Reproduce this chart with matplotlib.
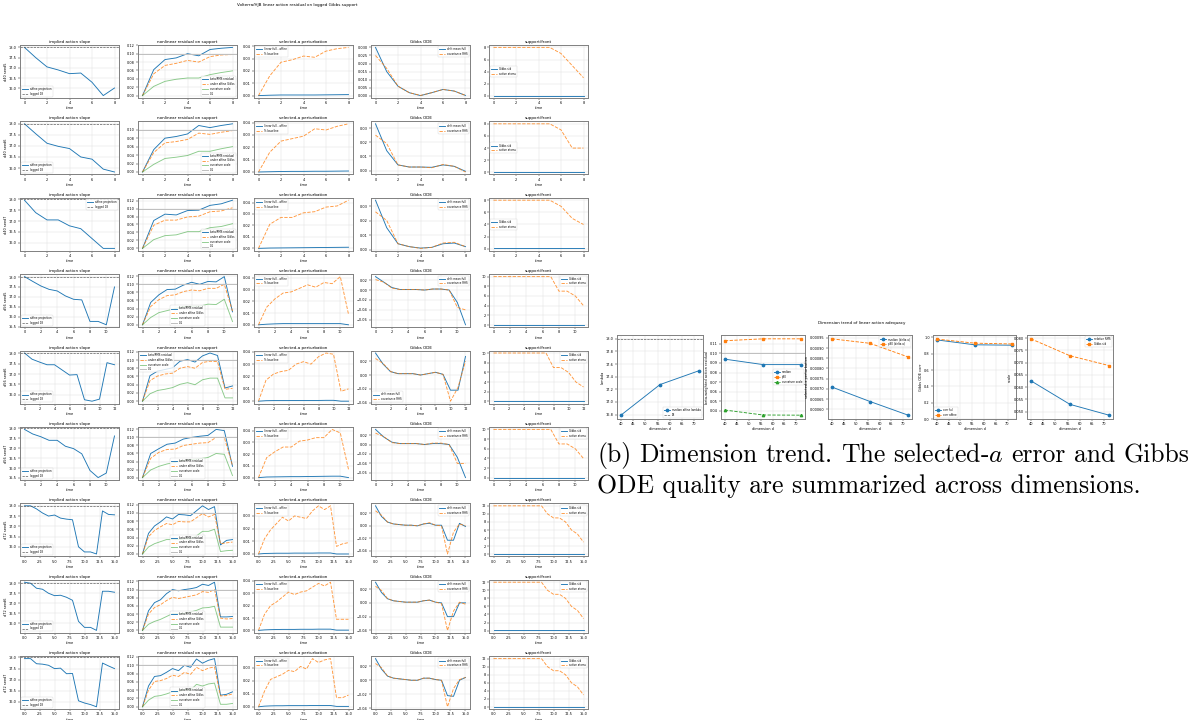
import matplotlib.pyplot as plt
from matplotlib.ticker import MaxNLocator

plt.rcParams["mathtext.fontset"] = "cm"

# ---- per-run data (left grid) ----
row_names = ["d40 seed5", "d40 seed6", "d40 seed7",
             "d56 seed5", "d56 seed6", "d56 seed7",
             "d72 seed5", "d72 seed6", "d72 seed7"]

times = [
    [0, 1, 2, 3, 4, 5, 6, 7, 8],
    [0, 1, 2, 3, 4, 5, 6, 7, 8],
    [0, 1, 2, 3, 4, 5, 6, 7, 8],
    [0, 1, 2, 3, 4, 5, 6, 7, 8, 9, 10, 11],
    [0, 1, 2, 3, 4, 5, 6, 7, 8, 9, 10, 11, 12],
    [0, 1, 2, 3, 4, 5, 6, 7, 8, 9, 10, 11],
    [0, 1, 2, 3, 4, 5, 6, 7, 8, 9, 10, 11, 12, 13, 14, 15],
    [0, 1, 2, 3, 4, 5, 6, 7, 8, 9, 10, 11, 12, 13, 14, 15],
    [0, 1, 2, 3, 4, 5, 6, 7, 8, 9, 10, 11, 12, 13, 14, 15],
]

affine_slope = [
    [18.0, 17.5, 17.05, 16.9, 16.72, 16.75, 16.3, 15.65, 16.02],
    [18.0, 17.55, 17.12, 16.98, 16.88, 16.5, 16.4, 15.95, 15.82],
    [17.95, 17.38, 17.05, 17.05, 16.78, 16.65, 16.2, 15.75, 15.75],
    [18.02, 17.78, 17.55, 17.38, 17.3, 17.05, 16.88, 16.85, 15.77, 15.77, 15.6, 17.5],
    [18.02, 17.72, 17.58, 17.45, 17.45, 17.2, 16.95, 16.97, 15.75, 15.68, 15.78, 17.55, 17.45],
    [17.95, 17.72, 17.58, 17.4, 17.4, 17.1, 16.98, 16.72, 15.88, 15.52, 15.75, 17.62],
    [18.0, 18.0, 17.85, 17.65, 17.5, 17.55, 17.4, 17.35, 17.32, 16.0, 15.75, 15.75, 15.65, 17.75, 17.58, 17.56],
    [18.05, 18.0, 17.75, 17.7, 17.5, 17.38, 17.4, 17.3, 17.15, 16.1, 15.8, 15.8, 15.65, 17.6, 17.6, 17.55],
    [17.95, 17.95, 17.72, 17.7, 17.65, 17.5, 17.52, 17.27, 17.28, 16.05, 15.95, 15.88, 15.78, 17.75, 17.62, 17.5],
]

beta_rms = [
    [0, 0.062, 0.086, 0.09, 0.1, 0.095, 0.11, 0.113, 0.115],
    [0, 0.053, 0.08, 0.084, 0.09, 0.11, 0.105, 0.11, 0.114],
    [0, 0.07, 0.086, 0.084, 0.095, 0.096, 0.108, 0.112, 0.121],
    [0, 0.055, 0.074, 0.087, 0.088, 0.098, 0.105, 0.1, 0.107, 0.106, 0.119, 0.032],
    [0, 0.062, 0.073, 0.077, 0.081, 0.097, 0.101, 0.095, 0.11, 0.117, 0.111, 0.032, 0.037],
    [0, 0.06, 0.072, 0.083, 0.086, 0.096, 0.1, 0.103, 0.105, 0.12, 0.117, 0.028],
    [0, 0.05, 0.068, 0.078, 0.09, 0.085, 0.096, 0.095, 0.093, 0.105, 0.117, 0.108, 0.115, 0.022, 0.033, 0.035],
    [0, 0.048, 0.068, 0.075, 0.09, 0.1, 0.097, 0.1, 0.102, 0.105, 0.113, 0.11, 0.118, 0.033, 0.033, 0.034],
    [0, 0.05, 0.073, 0.075, 0.083, 0.092, 0.087, 0.1, 0.095, 0.115, 0.105, 0.112, 0.116, 0.028, 0.03, 0.036],
]

under_affine = [
    [0, 0.052, 0.072, 0.077, 0.084, 0.08, 0.093, 0.097, 0.098],
    [0, 0.046, 0.069, 0.072, 0.077, 0.092, 0.089, 0.094, 0.098],
    [0, 0.058, 0.071, 0.071, 0.079, 0.081, 0.092, 0.094, 0.102],
    [0, 0.045, 0.062, 0.072, 0.074, 0.082, 0.086, 0.084, 0.09, 0.09, 0.1, 0.034],
    [0, 0.05, 0.061, 0.066, 0.068, 0.08, 0.084, 0.08, 0.094, 0.097, 0.096, 0.029, 0.031],
    [0, 0.048, 0.063, 0.07, 0.071, 0.08, 0.083, 0.086, 0.087, 0.1, 0.1, 0.03],
    [0, 0.042, 0.057, 0.066, 0.074, 0.071, 0.079, 0.078, 0.078, 0.088, 0.098, 0.09, 0.096, 0.025, 0.027, 0.029],
    [0, 0.04, 0.056, 0.063, 0.073, 0.081, 0.078, 0.081, 0.084, 0.087, 0.095, 0.093, 0.1, 0.03, 0.028, 0.029],
    [0, 0.04, 0.061, 0.063, 0.068, 0.076, 0.073, 0.083, 0.078, 0.095, 0.087, 0.093, 0.096, 0.026, 0.027, 0.031],
]

curvature = [
    [0, 0.022, 0.034, 0.039, 0.042, 0.042, 0.05, 0.055, 0.059],
    [0, 0.018, 0.032, 0.035, 0.039, 0.049, 0.049, 0.055, 0.06],
    [0, 0.022, 0.032, 0.034, 0.042, 0.042, 0.052, 0.055, 0.062],
    [0, 0.018, 0.03, 0.035, 0.04, 0.045, 0.046, 0.046, 0.051, 0.05, 0.063, 0.008],
    [0, 0.018, 0.026, 0.029, 0.033, 0.041, 0.045, 0.04, 0.052, 0.056, 0.056, 0.008, 0.008],
    [0, 0.019, 0.028, 0.034, 0.038, 0.043, 0.045, 0.047, 0.05, 0.06, 0.058, 0.005],
    [0, 0.017, 0.025, 0.03, 0.035, 0.035, 0.035, 0.037, 0.037, 0.044, 0.055, 0.055, 0.06, 0.006, 0.008, 0.009],
    [0, 0.015, 0.022, 0.027, 0.034, 0.041, 0.041, 0.042, 0.045, 0.049, 0.055, 0.056, 0.059, 0.008, 0.008, 0.008],
    [0, 0.016, 0.025, 0.027, 0.031, 0.036, 0.036, 0.042, 0.04, 0.054, 0.05, 0.055, 0.057, 0.006, 0.006, 0.008],
]

sel_full = [
    [0, 0.0003, 0.0005, 0.0005, 0.0005, 0.0005, 0.0006, 0.0007, 0.0008],
    [0, 0.0002, 0.0004, 0.0005, 0.0005, 0.0006, 0.0006, 0.0007, 0.0008],
    [0, 0.0003, 0.0004, 0.0005, 0.0006, 0.0007, 0.0008, 0.0009, 0.001],
    [0, 0.0005, 0.0008, 0.001, 0.001, 0.001, 0.001, 0.001, 0.001, 0.001, 0.001, 0.0],
    [0, 0.0004, 0.0005, 0.0005, 0.0005, 0.0006, 0.0006, 0.0006, 0.0006, 0.0007, 0.0007, 0.0, 0.0],
    [0, 0.0005, 0.0006, 0.0007, 0.0008, 0.0008, 0.0009, 0.001, 0.0011, 0.0012, 0.0012, 0.0],
    [0, 0.0004, 0.0005, 0.0006, 0.0006, 0.0006, 0.0007, 0.0007, 0.0007, 0.0007, 0.0008, 0.0008, 0.0008, 0.0, 0.0, 0.0],
    [0, 0.0004, 0.0006, 0.0007, 0.0008, 0.0008, 0.0008, 0.0009, 0.0009, 0.0009, 0.001, 0.001, 0.001, 0.0002, 0.0002, 0.0002],
    [0, 0.0005, 0.0007, 0.0008, 0.0008, 0.0009, 0.0009, 0.0009, 0.0009, 0.001, 0.001, 0.001, 0.001, 0.0003, 0.0003, 0.0003],
]

sel_base = [
    [0, 0.016, 0.027, 0.029, 0.032, 0.031, 0.036, 0.038, 0.039],
    [0, 0.016, 0.025, 0.027, 0.029, 0.035, 0.034, 0.037, 0.039],
    [0, 0.021, 0.027, 0.027, 0.031, 0.032, 0.036, 0.037, 0.042],
    [0, 0.015, 0.022, 0.027, 0.028, 0.031, 0.034, 0.032, 0.036, 0.035, 0.041, 0.009],
    [0, 0.017, 0.022, 0.024, 0.025, 0.03, 0.032, 0.03, 0.036, 0.039, 0.038, 0.008, 0.01],
    [0, 0.017, 0.022, 0.026, 0.026, 0.031, 0.032, 0.034, 0.034, 0.041, 0.038, 0.007],
    [0, 0.012, 0.019, 0.024, 0.029, 0.026, 0.03, 0.029, 0.028, 0.034, 0.038, 0.035, 0.038, 0.006, 0.008, 0.009],
    [0, 0.013, 0.02, 0.023, 0.027, 0.031, 0.029, 0.031, 0.032, 0.035, 0.038, 0.036, 0.039, 0.009, 0.009, 0.009],
    [0, 0.012, 0.021, 0.023, 0.025, 0.028, 0.027, 0.031, 0.029, 0.037, 0.034, 0.036, 0.037, 0.007, 0.007, 0.009],
]

ode_drift = [
    [0.030, 0.015, 0.006, 0.002, 0.0002, 0.002, 0.004, 0.003, 0.0003],
    [0.033, 0.014, 0.004, 0.0025, 0.0025, 0.0023, 0.004, 0.003, -0.0005],
    [0.034, 0.015, 0.004, 0.002, 0.001, 0.0015, 0.004, 0.0045, 0.002],
    [0.027, 0.016, 0.005, 0.001, 0.001, 0.001, 0.0, 0.002, 0.002, 0.0, -0.025, -0.07],
    [0.032, 0.016, 0.005, 0.002, 0.002, 0.002, 0.0, 0.002, 0.004, 0.001, -0.022, -0.022, 0.027],
    [0.032, 0.016, 0.005, 0.002, 0.002, 0.002, 0.0, 0.002, 0.002, 0.0, -0.027, -0.07],
    [0.032, 0.015, 0.006, 0.003, 0.002, 0.001, 0.001, 0.0, 0.003, 0.004, 0.001, 0.001, -0.023, -0.023, 0.004, -0.001],
    [0.030, 0.015, 0.006, 0.003, 0.002, 0.001, 0.001, 0.001, 0.003, 0.004, 0.001, 0.0, -0.02, -0.02, 0.0, 0.0],
    [0.031, 0.016, 0.006, 0.003, 0.002, 0.001, 0.0, 0.0, 0.003, 0.003, 0.001, 0.0, -0.022, -0.023, 0.0, 0.004],
]

ode_cov = [
    [0.025, 0.017, 0.006, 0.002, 0.0003, 0.002, 0.004, 0.003, 0.0003],
    [0.025, 0.019, 0.004, 0.0025, 0.0025, 0.002, 0.0043, 0.003, -0.001],
    [0.026, 0.02, 0.004, 0.002, 0.0008, 0.0015, 0.0045, 0.005, 0.002],
    [0.021, 0.016, 0.004, 0.001, 0.001, 0.001, 0.0, 0.002, 0.002, 0.0, -0.035, -0.04],
    [0.024, 0.017, 0.005, 0.002, 0.002, 0.002, 0.0, 0.002, 0.004, 0.001, -0.038, -0.018, 0.02],
    [0.024, 0.017, 0.004, 0.002, 0.002, 0.002, 0.0, 0.003, 0.003, 0.0, -0.04, -0.04],
    [0.024, 0.017, 0.006, 0.003, 0.002, 0.001, 0.001, 0.0, 0.003, 0.005, 0.001, 0.0, -0.045, -0.01, 0.003, 0.0],
    [0.024, 0.018, 0.006, 0.003, 0.002, 0.001, 0.001, 0.001, 0.003, 0.004, 0.001, -0.001, -0.04, -0.012, 0.001, -0.002],
    [0.024, 0.018, 0.006, 0.003, 0.002, 0.001, 0.0, 0.0, 0.003, 0.003, 0.001, 0.0, -0.038, -0.012, 0.001, 0.004],
]

active_atoms = [
    [8, 8, 8, 8, 8, 8, 7, 5, 3],
    [8, 8, 8, 8, 8, 8, 7, 4, 4],
    [8, 8, 8, 8, 8, 8, 7, 5, 4],
    [10, 10, 10, 10, 10, 10, 10, 10, 7, 7, 6, 4],
    [10, 10, 10, 10, 10, 10, 10, 10, 7, 7, 6, 4, 3],
    [10, 10, 10, 10, 10, 10, 10, 10, 7, 7, 6, 4],
    [12, 12, 12, 12, 12, 12, 12, 12, 12, 10, 9, 9, 8, 6, 5, 3],
    [12, 12, 12, 12, 12, 12, 12, 12, 12, 10, 9, 9, 8, 6, 5, 3],
    [12, 12, 12, 12, 12, 12, 12, 12, 12, 10, 9, 9, 8, 6, 5, 3],
]

gibbs_std = [
    [0.06, 0.06, 0.06, 0.06, 0.06, 0.06, 0.06, 0.06, 0.06],
    [0.06, 0.06, 0.06, 0.06, 0.06, 0.06, 0.06, 0.06, 0.06],
    [0.06, 0.06, 0.06, 0.06, 0.06, 0.06, 0.06, 0.06, 0.06],
    [0.06, 0.06, 0.06, 0.06, 0.06, 0.06, 0.06, 0.06, 0.06, 0.06, 0.06, 0.06],
    [0.06, 0.06, 0.06, 0.06, 0.06, 0.06, 0.06, 0.06, 0.06, 0.06, 0.06, 0.06, 0.06],
    [0.06, 0.06, 0.06, 0.06, 0.06, 0.06, 0.06, 0.06, 0.06, 0.06, 0.06, 0.06],
    [0.06, 0.06, 0.06, 0.06, 0.06, 0.06, 0.06, 0.06, 0.06, 0.06, 0.06, 0.06, 0.06, 0.06, 0.06, 0.06],
    [0.06, 0.06, 0.06, 0.06, 0.06, 0.06, 0.06, 0.06, 0.06, 0.06, 0.06, 0.06, 0.06, 0.06, 0.06, 0.06],
    [0.06, 0.06, 0.06, 0.06, 0.06, 0.06, 0.06, 0.06, 0.06, 0.06, 0.06, 0.06, 0.06, 0.06, 0.06, 0.06],
]

# ---- dimension trend data (right) ----
dims = [40, 56, 72]
med_lambda = [16.79, 17.275, 17.495]
res_median = [0.094, 0.0883, 0.0883]
res_p90 = [0.1133, 0.1153, 0.1153]
res_curv = [0.0407, 0.0355, 0.0353]
da_median = [0.000709, 0.000638, 0.000571]
da_p90 = [0.000945, 0.000923, 0.000856]
corr_full = [0.97, 0.91, 0.905]
corr_affine = [0.98, 0.93, 0.92]
rel_rms = [0.0626, 0.053, 0.0486]
gibbs_std_dim = [0.0797, 0.0728, 0.0688]

caption_line1 = ["(b)", "Dimension", "trend.", "The", "selected-$a$", "error", "and", "Gibbs"]
caption_line2 = "ODE quality are summarized across dimensions."

# legend spots per column, per row
leg_slope = ["lower left"] * 9
leg_slope[2] = "upper right"
leg_res = ["lower right"] * 3 + ["lower center", "upper left", "lower center"] + ["lower center"] * 3
leg_ode = ["upper right"] * 9
leg_ode[4] = "lower left"
leg_front = ["center left"] * 3 + ["upper right"] * 6

W, H = 1192, 720
fig = plt.figure(figsize=(W / 100, H / 100), dpi=100)

FS_T = 3.0
FS_TK = 2.5
FS_L = 1.9
LW = 0.65


def px_axes(x, y, w, h):
    return fig.add_axes([x / W, 1 - (y + h) / H, w / W, h / H])


def style(ax, nb):
    ax.tick_params(labelsize=FS_TK, length=1.3, width=0.3, pad=1)
    ax.xaxis.set_major_locator(MaxNLocator(nb, steps=[1, 2, 2.5, 5, 10]))
    ax.yaxis.set_major_locator(MaxNLocator(nb, steps=[1, 2, 2.5, 5, 10]))
    ax.grid(True, color="0.86", lw=0.3)
    for s in ax.spines.values():
        s.set_linewidth(0.7)
        s.set_edgecolor("0.5")


def leg(ax, loc):
    ax.legend(loc=loc, fontsize=FS_L, handlelength=2.2, borderpad=0.4,
              labelspacing=0.3, framealpha=0.8, edgecolor="0.8").get_frame().set_linewidth(0.3)


col_x = [20, 138, 254, 371, 489]
for r in range(9):
    top = 45 + 76.4 * r
    t = times[r]
    axs = [px_axes(x, top, 99, 53) for x in col_x]

    ax = axs[0]
    ax.plot(t, affine_slope[r], color="C0", lw=LW, label="affine projection")
    ax.axhline(18.0, color="0.3", ls="--", lw=0.45, label="logged 18")
    ax.set_title("implied action slope", fontsize=FS_T, pad=1.5)
    ax.set_ylabel(row_names[r], fontsize=FS_TK, labelpad=1)
    leg(ax, leg_slope[r])

    ax = axs[1]
    ax.plot(t, beta_rms[r], color="C0", lw=LW, label="beta/RMS residual")
    ax.plot(t, under_affine[r], color="C1", ls="--", lw=LW, alpha=0.8, label="under affine Gibbs")
    ax.plot(t, curvature[r], color="C2", lw=LW, alpha=0.55, label="curvature scale")
    ax.axhline(0.1, color="0.75", lw=0.7, label="0.1")
    ax.set_title("nonlinear residual on support", fontsize=FS_T, pad=1.5)
    leg(ax, leg_res[r])

    ax = axs[2]
    ax.plot(t, sel_full[r], color="C0", lw=LW, label="linear full - affine")
    ax.plot(t, sel_base[r], color="C1", ls="--", lw=LW, alpha=0.8, label="% baseline")
    ax.set_title("selected-a perturbation", fontsize=FS_T, pad=1.5)
    leg(ax, "upper left")

    ax = axs[3]
    ax.plot(t, ode_drift[r], color="C0", lw=LW, label="drift mean full")
    ax.plot(t, ode_cov[r], color="C1", ls="--", lw=LW, alpha=0.8, label="covariance RHS")
    ax.set_title("Gibbs ODE", fontsize=FS_T, pad=1.5)
    leg(ax, leg_ode[r])

    ax = axs[4]
    ax.plot(t, gibbs_std[r], color="C0", lw=LW, label="Gibbs std")
    ax.plot(t, active_atoms[r], color="C1", ls="--", lw=LW, alpha=0.8, label="active atoms")
    ax.set_title("support/front", fontsize=FS_T, pad=1.5)
    leg(ax, leg_front[r])

    for ax in axs:
        style(ax, 7)
        ax.set_xlabel("time", fontsize=FS_TK, labelpad=0.8)

fig.text(297 / W, 1 - 5 / H, "Volterra/HJB linear action residual on logged Gibbs support",
         fontsize=FS_T, ha="center", va="center")

# ---- right block ----
rx = [617, 721, 828, 933, 1027]
rw = [86, 84, 84, 83, 86]
raxs = [px_axes(x, 335, w, 84) for x, w in zip(rx, rw)]
MS = 1.7

ax = raxs[0]
ax.plot(dims, med_lambda, color="C0", lw=LW, marker="o", ms=MS, label="median affine lambda")
ax.axhline(18.0, color="0.3", ls="--", lw=0.45, label="18")
ax.set_ylabel("lambda", fontsize=FS_TK, labelpad=1)
leg(ax, "lower right")

ax = raxs[1]
ax.plot(dims, res_median, color="C0", lw=LW, marker="o", ms=MS, label="median")
ax.plot(dims, res_p90, color="C1", ls="--", lw=LW, marker="s", ms=MS, label="p90")
ax.plot(dims, res_curv, color="C2", ls="--", lw=LW, marker="^", ms=MS, label="curvature scale")
ax.axhline(0.1, color="0.75", lw=0.7)
ax.set_ylabel("beta-weighted action residual", fontsize=FS_TK, labelpad=1)
leg(ax, "center right")

ax = raxs[2]
ax.plot(dims, da_median, color="C0", lw=LW, marker="o", ms=MS, label="median |delta a|")
ax.plot(dims, da_p90, color="C1", ls="--", lw=LW, marker="s", ms=MS, label="p90 |delta a|")
ax.set_ylabel("selected-a perturbation", fontsize=FS_TK, labelpad=1)
leg(ax, "upper right")

ax = raxs[3]
ax.plot(dims, corr_full, color="C0", lw=LW, marker="o", ms=MS, label="corr full")
ax.plot(dims, corr_affine, color="C1", ls="--", lw=LW, marker="s", ms=MS, label="corr affine")
ax.set_ylim(0, 1.03)
ax.set_ylabel("Gibbs ODE corr", fontsize=FS_TK, labelpad=1)
leg(ax, "lower left")

ax = raxs[4]
ax.plot(dims, rel_rms, color="C0", lw=LW, marker="o", ms=MS, label="relative RMS")
ax.plot(dims, gibbs_std_dim, color="C1", ls="--", lw=LW, marker="s", ms=MS, label="Gibbs std")
ax.set_ylabel("scale", fontsize=FS_TK, labelpad=1)
leg(ax, "upper right")

for ax in raxs:
    style(ax, 9)
    ax.set_xlabel("dimension d", fontsize=FS_TK, labelpad=0.8)
raxs[3].yaxis.set_major_locator(MaxNLocator(6))

fig.text(862 / W, 1 - 323 / H, "Dimension trend of linear action adequacy",
         fontsize=FS_T, ha="center", va="center")

# caption: first line justified between x0 and x1, last line ragged
CAP_FS = 18.5
x0, x1 = 597, 1189
renderer = fig.canvas.get_renderer()
words = [fig.text(0, 1 - 462 / H, w, fontsize=CAP_FS, family="cmr10", va="baseline")
         for w in caption_line1]
widths = [w.get_window_extent(renderer).width for w in words]
gap = (x1 - x0 - sum(widths)) / (len(words) - 1)
x = x0
for w, wd in zip(words, widths):
    w.set_x(x / W)
    x += wd + gap
fig.text(x0 / W, 1 - 493 / H, caption_line2, fontsize=CAP_FS, family="cmr10", va="baseline")

fig.savefig("out.png", dpi=100)
